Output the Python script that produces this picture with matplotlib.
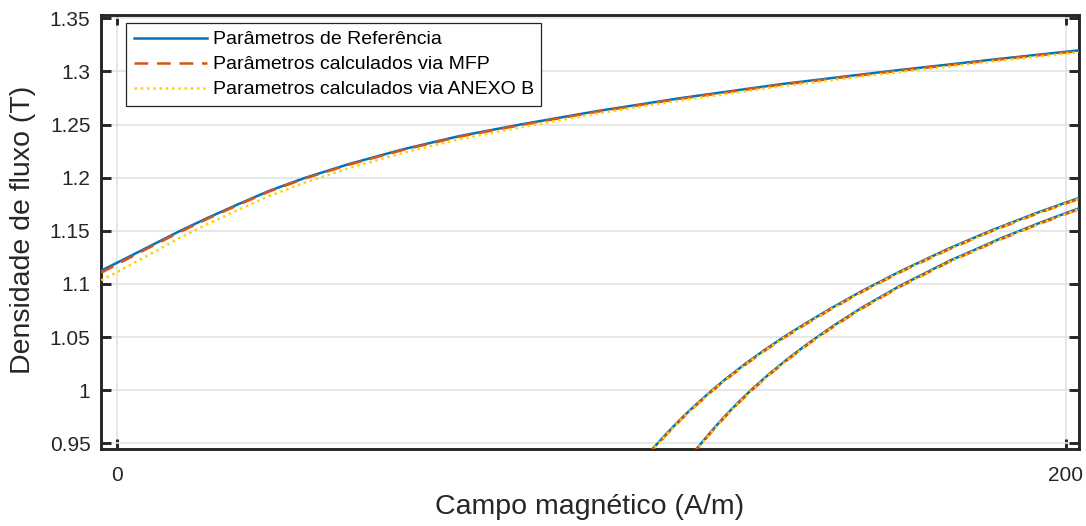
import matplotlib
matplotlib.use("Agg")
import matplotlib.pyplot as plt
import numpy as np

plt.rcParams['font.family'] = ['Liberation Sans', 'DejaVu Sans']

# ---------------- data ----------------
labels = ["Parâmetros de Referência",
          "Parâmetros calculados via MFP",
          "Parametros calculados via ANEXO B"]

# upper (descending) branch
H_up = [-3.4, 0.0, 6.0, 13.3, 19.0, 25.5, 32.0, 39.7, 49.0, 60.0, 72.0, 85.0,
        101.0, 119.0, 140.0, 162.4, 185.0, 203.2]
B_up_ref = [1.1125, 1.1200, 1.1335, 1.1500, 1.1620, 1.1750, 1.1875, 1.2000,
            1.2130, 1.2264, 1.2390, 1.2500, 1.2625, 1.2750, 1.2880, 1.3000,
            1.3113, 1.3200]
B_up_mfp = [1.1105, 1.1185, 1.1325, 1.1490, 1.1612, 1.1743, 1.1869, 1.1994,
            1.2124, 1.2258, 1.2384, 1.2494, 1.2619, 1.2744, 1.2874, 1.2994,
            1.3107, 1.3194]
B_up_anexo = [1.1033, 1.1112, 1.1257, 1.1436, 1.1562, 1.1697, 1.1827, 1.1956,
              1.2092, 1.2231, 1.2361, 1.2474, 1.2602, 1.2729, 1.2860, 1.2981,
              1.3095, 1.3183]

# lower (ascending) branch 1
H_lo1 = [111.5, 112.8, 116.0, 119.0, 122.0, 125.1, 128.5, 132.5, 136.5, 140.6,
         145.0, 150.0, 157.0, 165.2, 175.0, 184.2, 194.0, 203.2]
B_lo1_ref = [0.9378, 0.9444, 0.9599, 0.9736, 0.9863, 0.9986, 1.0112, 1.0250,
             1.0378, 1.0501, 1.0624, 1.0757, 1.0932, 1.1120, 1.1326, 1.1501,
             1.1670, 1.1815]
B_lo1_mfp = [0.9370, 0.9436, 0.9591, 0.9728, 0.9855, 0.9978, 1.0104, 1.0242,
             1.0370, 1.0493, 1.0616, 1.0749, 1.0924, 1.1112, 1.1318, 1.1493,
             1.1662, 1.1807]
B_lo1_anexo = [0.9370, 0.9436, 0.9591, 0.9728, 0.9855, 0.9978, 1.0104, 1.0242,
               1.0370, 1.0493, 1.0616, 1.0749, 1.0924, 1.1112, 1.1318, 1.1493,
               1.1662, 1.1807]

# lower (ascending) branch 2
H_lo2 = [121.0, 122.1, 125.0, 128.0, 131.0, 134.0, 137.5, 141.5, 146.0, 151.0,
         157.0, 165.2, 175.5, 186.3, 195.0, 203.2]
B_lo2_ref = [0.9382, 0.9444, 0.9599, 0.9749, 0.9887, 1.0015, 1.0153, 1.0299,
             1.0450, 1.0605, 1.0776, 1.0985, 1.1217, 1.1428, 1.1583, 1.1718]
B_lo2_mfp = [0.9374, 0.9436, 0.9591, 0.9741, 0.9879, 1.0007, 1.0145, 1.0291,
             1.0442, 1.0597, 1.0768, 1.0977, 1.1209, 1.1420, 1.1575, 1.1710]
B_lo2_anexo = [0.9374, 0.9436, 0.9591, 0.9741, 0.9879, 1.0007, 1.0145, 1.0291,
               1.0442, 1.0597, 1.0768, 1.0977, 1.1209, 1.1420, 1.1575, 1.1710]

x_ticks = [0, 200]
y_ticks = [0.95, 1.0, 1.05, 1.1, 1.15, 1.2, 1.25, 1.3, 1.35]
y_ticklabels = ["0.95", "1", "1.05", "1.1", "1.15", "1.2", "1.25", "1.3", "1.35"]

# ---------------- figure ----------------
fig = plt.figure(figsize=(10.86, 5.26), dpi=100)
ax = fig.add_axes([0.09346, 0.1464, 0.9001, 0.8251])

c_blue = '#0072BD'
c_orange = '#D95319'
c_yellow = '#FFD200'
lw = 1.8

series = [
    (labels[0], c_blue, dict(linestyle='-'), [B_up_ref, B_lo1_ref, B_lo2_ref]),
    (labels[1], c_orange, dict(linestyle=(0, (5.5, 3.5))), [B_up_mfp, B_lo1_mfp, B_lo2_mfp]),
    (labels[2], c_yellow, dict(linestyle=(0, (1, 1.5))), [B_up_anexo, B_lo1_anexo, B_lo2_anexo]),
]
Hs = [H_up, H_lo1, H_lo2]
for i, (lab, col, st, Bs) in enumerate(series):
    for j, (H, B) in enumerate(zip(Hs, Bs)):
        ax.plot(H, B, color=col, lw=lw, label=lab if j == 0 else None,
                zorder=3 + i, solid_joinstyle='round', **st)

ax.set_xlim(-3.33, 202.8)
ax.set_ylim(0.9446, 1.3531)
ax.set_xticks(x_ticks)
ax.set_xticklabels([str(v) for v in x_ticks])
ax.set_yticks(y_ticks)
ax.set_yticklabels(y_ticklabels)

dark = '#262626'
ax.grid(True, color='#e3e3e3', lw=1.2, zorder=0)
ax.set_axisbelow(True)
for s in ax.spines.values():
    s.set_linewidth(2.1)
    s.set_color(dark)
ax.tick_params(axis='both', which='both', direction='in', length=7, width=2.1,
               color=dark, labelcolor=dark, labelsize=15,
               top=True, right=True)
ax.tick_params(axis='x', pad=12)
ax.tick_params(axis='y', pad=8)

ax.set_xlabel("Campo magnético (A/m)", fontsize=20.5, color=dark, va='center')
ax.xaxis.set_label_coords(0.499, -0.1336)
ax.set_ylabel("Densidade de fluxo (T)", fontsize=20.5, color=dark, va='center')
ax.yaxis.set_label_coords(-0.0802, 0.505)

leg = ax.legend(loc='upper left', bbox_to_anchor=(0.0251, 0.9816),
                borderaxespad=0, fontsize=14, frameon=True, fancybox=False,
                framealpha=1, edgecolor=dark, handlelength=3.75,
                handletextpad=0.3, labelspacing=0.38, borderpad=0.4)
leg.get_frame().set_linewidth(0.9)
for t in leg.get_texts():
    t.set_color('black')

fig.savefig("out.png", dpi=100)
